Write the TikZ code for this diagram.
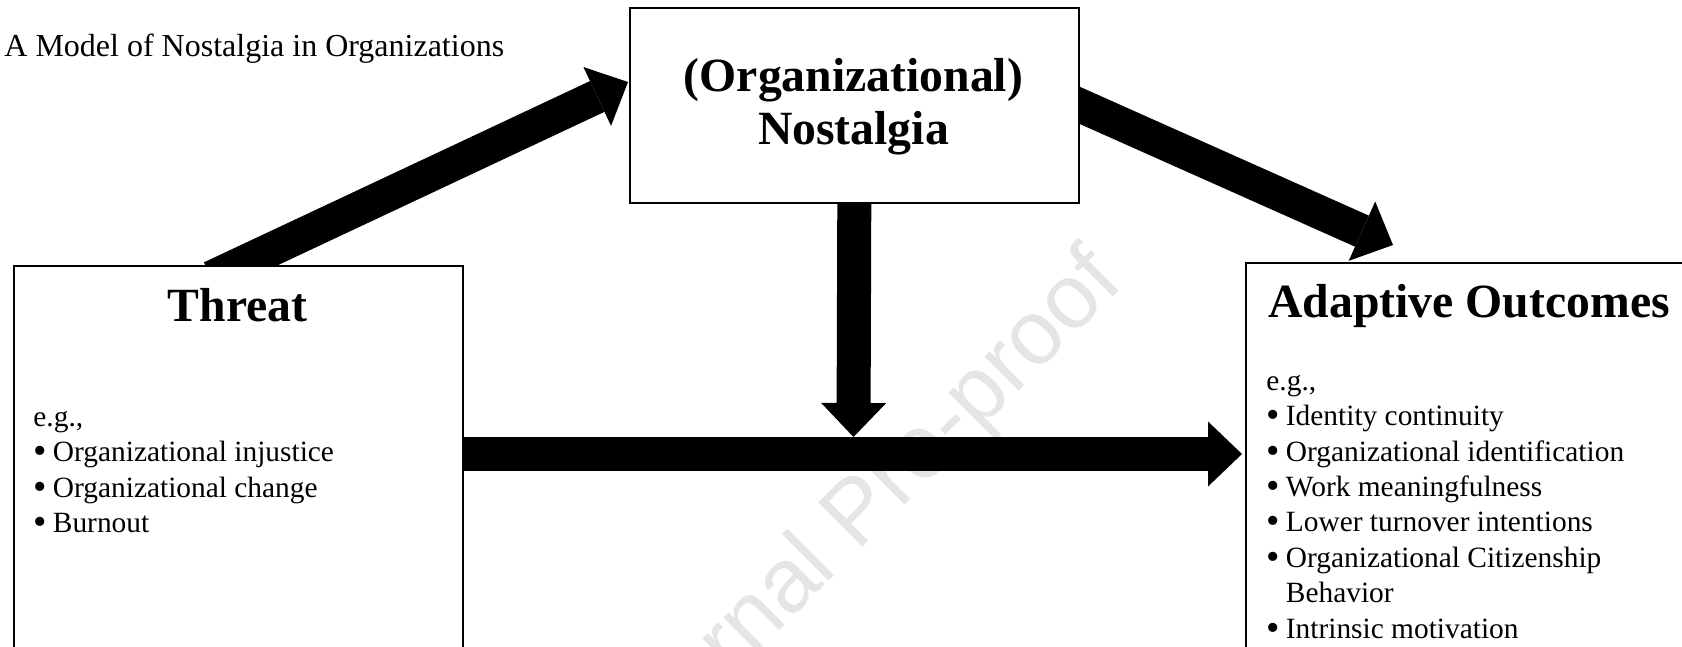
\documentclass[tikz,border=0pt]{standalone}
\usepackage{fontspec}
\setmainfont{Liberation Serif}
\newfontfamily\marksans{Liberation Sans}
\usepackage{graphicx}
\usepackage{tikz}
\usetikzlibrary{arrows.meta,backgrounds}
\newcommand{\itembullet}{\makebox[9.75pt][l]{\raisebox{-0.15ex}{\scalebox{1.3}{\textbullet}}}}

\begin{document}
\begin{tikzpicture}[x=0.5pt,y=-0.5pt,
  box/.style={draw,line width=0.8pt,fill=white,inner sep=0pt,anchor=north west},
  blockarrow/.style={line width=17pt,-{Triangle[width=32.5pt,length=17pt,line width=0pt]}},
  heading/.style={font=\fontsize{23.85}{26.5}\selectfont\bfseries,inner sep=0pt},
  titletext/.style={font=\fontsize{16}{18}\selectfont,inner sep=0pt},
  listtext/.style={font=\fontsize{14.7}{17.7}\selectfont,inner sep=0pt,align=left}]
\useasboundingbox (0,0) rectangle (1682,647);

% the three boxes
\node[box,minimum width=224.5pt,minimum height=192.5pt] (threat) at (13,265) {};
\node[box,minimum width=224.5pt,minimum height=97.5pt] (nostalgia) at (629,7) {};
\node[box,minimum width=220pt,minimum height=194pt] (outcomes) at (1245,262) {};

\node[titletext,anchor=base west] (title) at (4,57) {A Model of Nostalgia in Organizations};

\node[heading,align=center] (nostalgiahead) at (853.5,107) {(Organizational)\\Nostalgia};
\node[heading,anchor=base] (threathead) at (237.5,321) {Threat};
\node[heading,anchor=base west] (outcomeshead) at (1268,317) {Adaptive Outcomes};

% lists, placed by the baseline of their last line
\node[listtext,anchor=base west] (threatlist) at (33,532.5) {e.g.,\\
  \itembullet Organizational injustice\\
  \itembullet Organizational change\\
  \itembullet Burnout};
\node[listtext,anchor=base west] (outcomeslist) at (1266,638) {e.g.,\\
  \itembullet Identity continuity\\
  \itembullet Organizational identification\\
  \itembullet Work meaningfulness\\
  \itembullet Lower turnover intentions\\
  \itembullet Organizational Citizenship\\
  \hspace*{9.75pt}Behavior\\
  \itembullet Intrinsic motivation};

\coordinate (tipA) at (628,82);
\coordinate (tipB) at (1393,245);
\coordinate (tipC) at (1242,454);
\coordinate (tipD) at (853.5,437);

% arrows behind the boxes
\begin{scope}[on background layer]
  \node[rotate=45,anchor=base west,inner sep=0pt,text=black!10,
    font=\marksans\fontsize{45.5}{50}\selectfont] (watermark) at (628,782) {Journal Pre-proof};
  \draw[blockarrow,shorten <=-15pt] (threat.north) -- (tipA);
  \draw[blockarrow,shorten <=-15pt] (nostalgia.east) -- (tipB);
  \draw[blockarrow,shorten <=-10pt] (nostalgia.south) -- (tipD);
  \draw[blockarrow] (threat.east |- tipC) -- (tipC);
\end{scope}
\end{tikzpicture}
\end{document}
